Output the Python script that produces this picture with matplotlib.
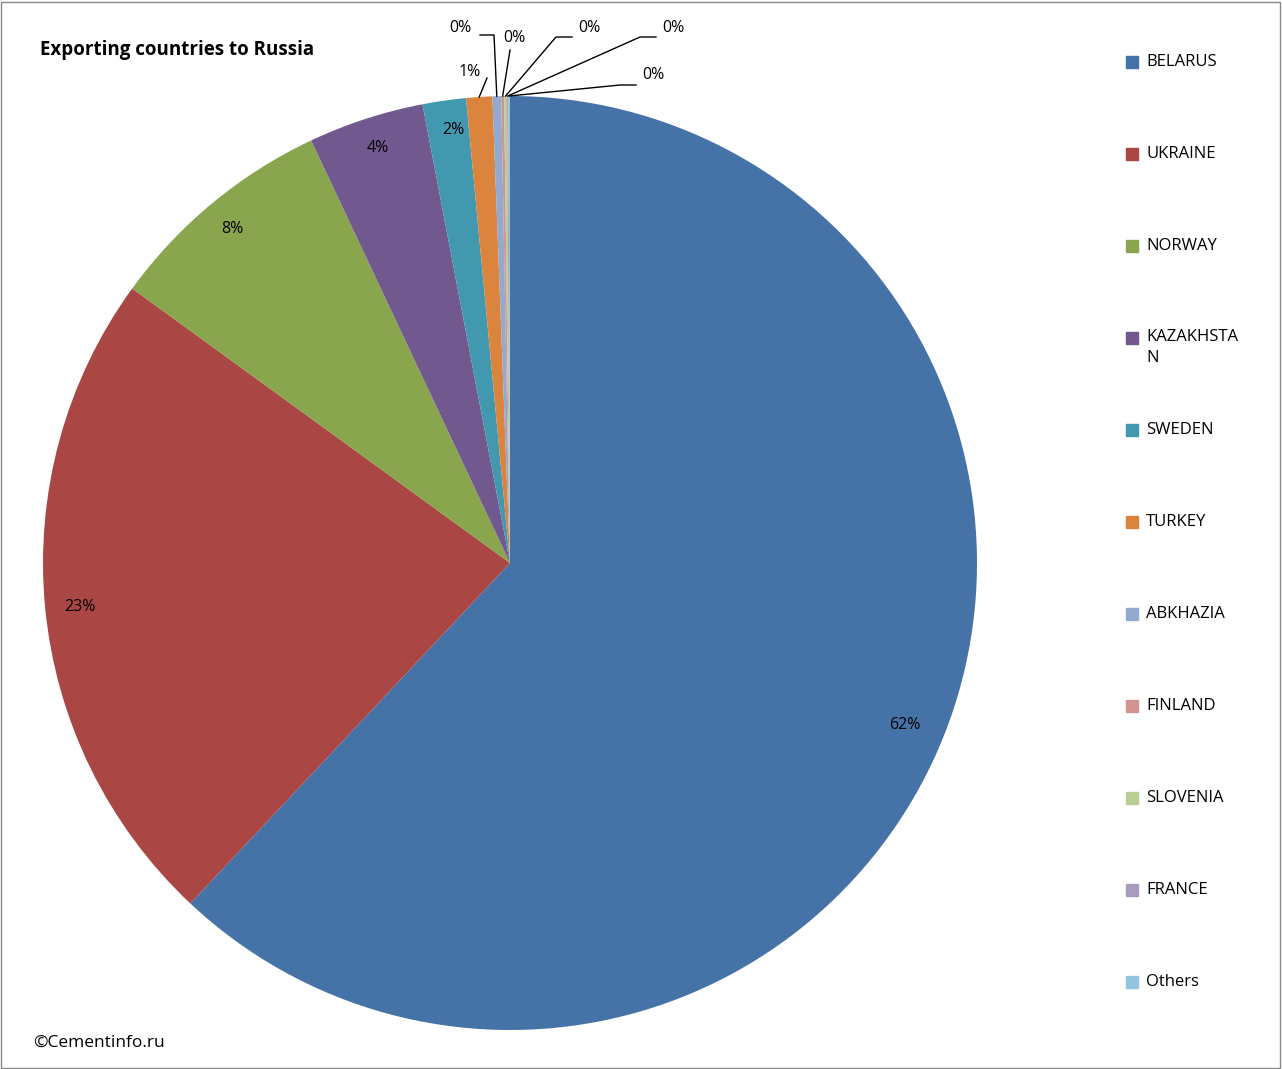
import numpy as np
import matplotlib.pyplot as plt
from matplotlib.patches import Rectangle

plt.rcParams['font.family'] = 'Open Sans'

countries = ['BELARUS', 'UKRAINE', 'NORWAY', 'KAZAKHSTAN', 'SWEDEN', 'TURKEY',
             'ABKHAZIA', 'FINLAND', 'SLOVENIA', 'FRANCE', 'Others']
legend_labels = ['BELARUS', 'UKRAINE', 'NORWAY', 'KAZAKHSTA\nN', 'SWEDEN', 'TURKEY',
                 'ABKHAZIA', 'FINLAND', 'SLOVENIA', 'FRANCE', 'Others']
shares = [62.0, 23.0, 8.0, 4.0, 1.5, 0.9, 0.3, 0.1, 0.1, 0.05, 0.05]
pct_labels = ['62%', '23%', '8%', '4%', '2%', '1%', '0%', '0%', '0%', '0%', '0%']
colors = ['#4572A7', '#AA4643', '#89A54E', '#71588F', '#4198AF', '#DB843D',
          '#93A9CF', '#D19392', '#B9CD96', '#A99BBD', '#92C5DE']

W, H = 1282, 1069
fig = plt.figure(figsize=(W / 100, H / 100), dpi=100)
ax = fig.add_axes([0, 0, 1, 1])
ax.set_xlim(0, W)
ax.set_ylim(0, H)
ax.axis('off')

cx, cy, r = 510, H - 563, 467
ax.pie(shares, colors=colors, startangle=90, counterclock=False,
       center=(cx, cy), radius=r, frame=True,
       wedgeprops=dict(edgecolor='none'))
ax.set_xlim(0, W)
ax.set_ylim(0, H)
ax.axis('off')

# inside labels (pixel coords from top)
inside_pos = [(905, 725), (80, 607), (232, 229), (378, 148), (453, 130)]
for lbl, (x, y) in zip(pct_labels[:5], inside_pos):
    ax.text(x, H - y, lbl, fontsize=11.5, ha='center', va='center')

# outside labels with leader lines: text pos, elbow start, elbow end
outside = [((470, 72), None, (487, 78)),
           ((460, 28), (480, 35), (494, 35)),
           ((514, 38), None, (510, 50)),
           ((589, 28), (572, 37), (556, 37)),
           ((673, 28), (656, 37), (640, 37)),
           ((653, 75), (636, 85), (620, 85))]
cum = np.cumsum([0] + shares[:-1])
total = sum(shares)
for i, (tp, e1, e2) in enumerate(outside):
    k = i + 5
    mid = (cum[k] + shares[k] / 2) / total * 2 * np.pi
    px, py = cx + r * np.sin(mid), cy + r * np.cos(mid)
    ax.text(tp[0], H - tp[1], pct_labels[k], fontsize=11.5, ha='center', va='center')
    xs = [px, e2[0]]
    ys = [py, H - e2[1]]
    if e1 is not None:
        xs.append(e1[0])
        ys.append(H - e1[1])
    ax.plot(xs, ys, color='black', lw=1)

# legend
for i, (lbl, c) in enumerate(zip(legend_labels, colors)):
    y = H - (62 + 92 * i)
    ax.add_patch(Rectangle((1126, y - 6), 12, 12, color=c))
    ax.text(1146, y + (9 if '\n' in lbl else 0) - (12 if '\n' in lbl else 0) + (12 if '\n' in lbl else 0),
            lbl, fontsize=12, va='top' if '\n' in lbl else 'center', ha='left',
            linespacing=1.45)

ax.text(40, H - 50, 'Exporting countries to Russia', fontsize=13.5,
        fontweight='bold', va='center')
ax.text(33, H - 1043, '©Cementinfo.ru', fontsize=12.5, va='center')

ax.add_patch(Rectangle((1, 1), W - 3, H - 3, fill=False, edgecolor='#888888', lw=1))

fig.savefig('out.png', dpi=100)
